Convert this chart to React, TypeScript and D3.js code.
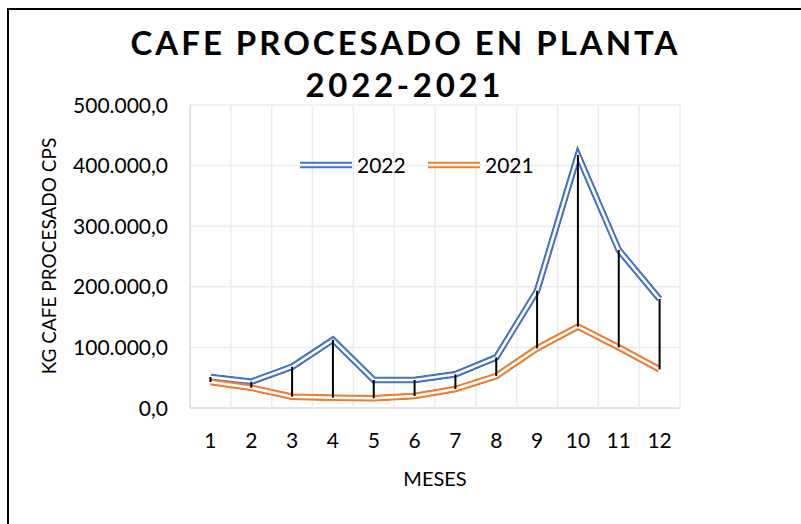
import React, { useEffect, useRef } from 'react'
import * as d3 from 'd3'

const months = ['1', '2', '3', '4', '5', '6', '7', '8', '9', '10', '11', '12']
const values2022 = [51000, 43400, 68100, 112500, 46200, 46200, 55600, 83600, 193500, 417500, 260700, 179900]
const values2021 = [43000, 33500, 18600, 17000, 16000, 19800, 31400, 52800, 98500, 134200, 100100, 63800]
const yTicks = [0, 100000, 200000, 300000, 400000, 500000]
const seriesNames = ['2022', '2021']

const App = () => {
  const ref = useRef<SVGSVGElement>(null)

  useEffect(() => {
    const width = 801
    const height = 524
    const left = 190
    const right = 680
    const top = 105
    const bottom = 408
    const font = 'Lato, "Noto Sans", sans-serif'

    const svg = d3.select(ref.current)
    svg.selectAll('*').remove()

    const locale = d3.formatLocale({ decimal: ',', thousands: '.', grouping: [3], currency: ['', ''] })
    const fmt = locale.format(',.1f')

    const x = d3.scaleBand().domain(months).range([left, right])
    const y = d3.scaleLinear().domain([0, 500000]).range([bottom, top])
    const cx = (m: string) => (x(m) as number) + x.bandwidth() / 2

    svg.append('rect').attr('width', width).attr('height', height).attr('fill', 'white')
    svg
      .append('rect')
      .attr('x', 8)
      .attr('y', 9)
      .attr('width', 830)
      .attr('height', 560)
      .attr('fill', 'none')
      .attr('stroke', 'black')
      .attr('stroke-width', 2)

    // grid
    svg
      .selectAll('hgrid')
      .data(yTicks)
      .enter()
      .append('line')
      .attr('x1', left)
      .attr('x2', right)
      .attr('y1', (d) => y(d))
      .attr('y2', (d) => y(d))
      .attr('stroke', (d) => (d === 0 ? '#d9d9d9' : '#ececec'))
      .attr('stroke-width', 1.5)
    svg
      .selectAll('vgrid')
      .data(months.concat(['end']))
      .enter()
      .append('line')
      .attr('x1', (d, i) => left + i * x.step())
      .attr('x2', (d, i) => left + i * x.step())
      .attr('y1', top)
      .attr('y2', bottom)
      .attr('stroke', (d, i) => (i === 0 ? '#d9d9d9' : '#ececec'))
      .attr('stroke-width', 1.5)

    // y tick labels
    svg
      .selectAll('ylab')
      .data(yTicks)
      .enter()
      .append('text')
      .attr('x', 168)
      .attr('y', (d) => y(d))
      .attr('dy', '0.36em')
      .attr('text-anchor', 'end')
      .style('font-family', font)
      .style('font-size', '21px')
      .attr('fill', '#000')
      .text((d) => fmt(d))

    // x tick labels
    svg
      .selectAll('xlab')
      .data(months)
      .enter()
      .append('text')
      .attr('x', (d) => cx(d))
      .attr('y', 440)
      .attr('dy', '0.36em')
      .attr('text-anchor', 'middle')
      .style('font-family', font)
      .style('font-size', '21px')
      .text((d) => d)

    svg
      .append('text')
      .attr('x', (left + right) / 2)
      .attr('y', 479)
      .attr('dy', '0.36em')
      .attr('text-anchor', 'middle')
      .style('font-family', font)
      .style('font-size', '20px')
      .text('MESES')

    svg
      .append('text')
      .attr('transform', 'translate(49,256) rotate(-90)')
      .attr('dy', '0.36em')
      .attr('text-anchor', 'middle')
      .style('font-family', font)
      .style('font-size', '19px')
      .text('KG CAFE PROCESADO CPS')

    // title
    svg
      .append('text')
      .attr('x', 404)
      .attr('y', 55)
      .attr('text-anchor', 'middle')
      .attr('textLength', 547)
      .attr('lengthAdjust', 'spacing')
      .style('font-family', font)
      .style('font-size', '33px')
      .style('font-weight', 'bold')
      .text('CAFE PROCESADO EN PLANTA')
    svg
      .append('text')
      .attr('x', 403)
      .attr('y', 97)
      .attr('text-anchor', 'middle')
      .attr('textLength', 195)
      .attr('lengthAdjust', 'spacing')
      .style('font-family', font)
      .style('font-size', '33px')
      .style('font-weight', 'bold')
      .text('2022-2021')

    // double lines through masks, so the gap is see-through
    const defs = svg.append('defs')
    const doubleLine = (id: string, d: string, color: string) => {
      const mask = defs
        .append('mask')
        .attr('id', id)
        .attr('maskUnits', 'userSpaceOnUse')
        .attr('x', 0)
        .attr('y', 0)
        .attr('width', width)
        .attr('height', height)
      mask
        .append('path')
        .attr('d', d)
        .attr('fill', 'none')
        .attr('stroke', 'white')
        .attr('stroke-width', 7)
        .attr('stroke-linejoin', 'miter')
        .attr('stroke-miterlimit', 10)
      mask
        .append('path')
        .attr('d', d)
        .attr('fill', 'none')
        .attr('stroke', 'black')
        .attr('stroke-width', 2.6)
        .attr('stroke-linejoin', 'miter')
        .attr('stroke-miterlimit', 10)
      svg
        .append('path')
        .attr('d', d)
        .attr('fill', 'none')
        .attr('stroke', color)
        .attr('stroke-width', 7)
        .attr('stroke-linejoin', 'miter')
        .attr('stroke-miterlimit', 10)
        .attr('mask', `url(#${id})`)
    }

    const line = d3
      .line<number>()
      .x((d, i) => cx(months[i]))
      .y((d) => y(d))

    const colors = ['#4472C4', '#ED7D31']
    doubleLine('m2022', line(values2022) as string, colors[0])
    doubleLine('m2021', line(values2021) as string, colors[1])

    // high-low lines
    svg
      .selectAll('hilo')
      .data(months)
      .enter()
      .append('line')
      .attr('x1', (d) => cx(d))
      .attr('x2', (d) => cx(d))
      .attr('y1', (d, i) => y(Math.max(values2022[i], values2021[i])))
      .attr('y2', (d, i) => y(Math.min(values2022[i], values2021[i])))
      .attr('stroke', 'black')
      .attr('stroke-width', 2)

    // legend
    const legendX = [300, 428]
    seriesNames.forEach((name, i) => {
      const lx = legendX[i]
      doubleLine(`leg${i}`, `M${lx},165H${lx + 52}`, colors[i])
      svg
        .append('text')
        .attr('x', lx + 57)
        .attr('y', 165)
        .attr('dy', '0.36em')
        .style('font-family', font)
        .style('font-size', '21px')
        .text(name)
    })
  }, [])

  return (
    <svg
      ref={ref}
      width={801}
      height={524}
      style={{ position: 'absolute', left: 0, top: 0, display: 'block' }}
    />
  )
}

export default App
